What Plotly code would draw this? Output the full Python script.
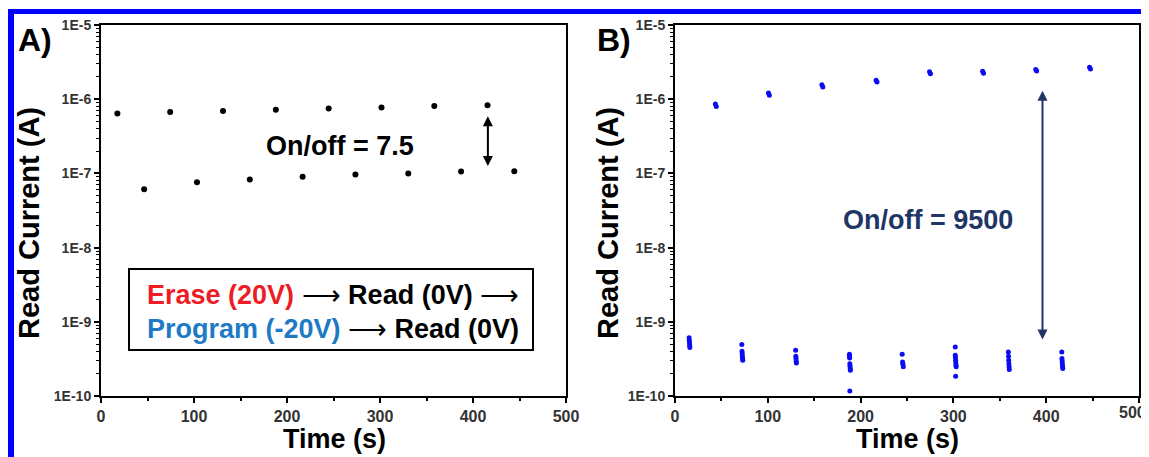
import numpy as np
import plotly.graph_objects as go

# Panel A: read current after erase / program pulses (black)
a_on_t = [17.6, 74.4, 131.2, 188.0, 244.8, 301.6, 358.4, 415.6]
a_on_i = [6.4e-7, 6.7e-7, 6.95e-7, 7.2e-7, 7.5e-7, 7.7e-7, 8.1e-7, 8.3e-7]
a_off_t = [46.4, 103.2, 160.0, 216.8, 273.6, 330.4, 387.2, 444.4]
a_off_i = [6.1e-8, 7.6e-8, 8.3e-8, 9.0e-8, 9.7e-8, 1.0e-7, 1.06e-7, 1.07e-7]

# Panel B: on state (upper) and off state (lower), blue
b_on_t = [43.5, 44.5, 100.7, 101.7, 158.3, 159.3, 216.7, 217.7, 274.3, 275.3, 331.5, 332.5, 388.7, 389.7, 446.7, 447.7]
b_on_i = [8.6e-7, 8.0e-7, 1.21e-6, 1.13e-6, 1.56e-6, 1.46e-6, 1.80e-6, 1.70e-6,
          2.34e-6, 2.20e-6, 2.38e-6, 2.24e-6, 2.52e-6, 2.40e-6, 2.70e-6, 2.56e-6]
b_off_t = [15.2, 15.4, 15.6, 15.8, 16.0,
           72.0, 72.2, 72.4, 72.6, 72.8, 73.0,
           130.0, 130.2, 130.4, 130.6, 130.8,
           188.0, 188.0, 188.2, 188.4, 188.6, 188.8, 189.0, 188.4,
           244.8, 245.2, 245.6, 246.0,
           302.0, 302.0, 302.2, 302.4, 302.6, 302.8, 303.0, 302.4,
           359.2, 359.4, 359.6, 359.8, 360.0, 360.2,
           416.8, 417.0, 417.2, 417.4, 417.6, 417.8]
b_off_i = [6.1e-10, 5.65e-10, 5.2e-10, 4.84e-10, 4.5e-10,
           4.94e-10, 4.0e-10, 3.73e-10, 3.44e-10, 3.2e-10, 3.03e-10,
           4.14e-10, 3.44e-10, 3.2e-10, 2.94e-10, 2.79e-10,
           3.66e-10, 3.44e-10, 3.26e-10, 2.73e-10, 2.51e-10, 2.34e-10, 2.22e-10, 1.17e-10,
           3.66e-10, 2.88e-10, 2.68e-10, 2.47e-10,
           4.59e-10, 3.55e-10, 3.3e-10, 3.03e-10, 2.79e-10, 2.6e-10, 2.47e-10, 1.84e-10,
           3.93e-10, 3.44e-10, 3.03e-10, 2.73e-10, 2.47e-10, 2.27e-10,
           3.93e-10, 3.2e-10, 2.97e-10, 2.73e-10, 2.51e-10, 2.34e-10]

y_ticks = [1e-10, 1e-9, 1e-8, 1e-7, 1e-6, 1e-5]
y_text = ["1E-10", "1E-9", "1E-8", "1E-7", "1E-6", "1E-5"]
x_ticks = [0, 100, 200, 300, 400, 500]

FONT = "Arial, Liberation Sans, sans-serif"
NAVY = "#1f3566"
BLUE_DOT = "#0c0cf0"
W, H, OFF = 1141, 449, 8   # page body adds an 8px margin


def px(x):
    return (x - OFF) / W


def py(y):
    return 1 - (y - OFF) / H


minor_y = [m * 10.0 ** e for e in range(-10, -5) for m in range(2, 10)]

fig = go.Figure()
fig.add_trace(go.Scatter(x=a_on_t, y=a_on_i, mode="markers", marker=dict(color="black", size=6),
                         xaxis="x", yaxis="y", showlegend=False))
fig.add_trace(go.Scatter(x=a_off_t, y=a_off_i, mode="markers", marker=dict(color="black", size=6),
                         xaxis="x", yaxis="y", showlegend=False))
fig.add_trace(go.Scatter(x=b_on_t, y=b_on_i, mode="markers", marker=dict(color=BLUE_DOT, size=5),
                         xaxis="x2", yaxis="y2", showlegend=False))
fig.add_trace(go.Scatter(x=b_off_t, y=b_off_i, mode="markers", marker=dict(color=BLUE_DOT, size=5),
                         xaxis="x2", yaxis="y2", showlegend=False))


def xax(domain, anchor):
    return dict(domain=domain, anchor=anchor, range=[0, 500], tickvals=x_ticks, automargin=False,
                showline=True, linecolor="black", linewidth=2, mirror=True,
                ticks="outside", ticklen=5, tickwidth=2, tickcolor="black",
                minor=dict(tickmode="array", tickvals=[50, 150, 250, 350, 450], ticks="outside",
                           ticklen=3, tickwidth=2, tickcolor="black"),
                showgrid=False, zeroline=False,
                tickfont=dict(family=FONT, size=16, color="#333", weight="bold"))


def yax(anchor):
    return dict(domain=[py(396), py(25)], anchor=anchor, type="log", range=[-10, -5], automargin=False,
                tickvals=y_ticks, ticktext=y_text,
                showline=True, linecolor="black", linewidth=2, mirror=True,
                ticks="outside", ticklen=5, tickwidth=2, tickcolor="black",
                minor=dict(tickmode="array", tickvals=minor_y, ticks="outside",
                           ticklen=3, tickwidth=1, tickcolor="black"),
                showgrid=False, zeroline=False,
                tickfont=dict(family=FONT, size=14, color="#333", weight="bold"))


fig.update_layout(
    width=W, height=H,
    margin=dict(l=0, r=0, t=0, b=0),
    paper_bgcolor="white", plot_bgcolor="white",
    xaxis=xax([px(101), px(566)], "y"),
    yaxis=yax("x"),
    xaxis2=xax([px(675), px(1139)], "y2"),
    yaxis2=yax("x2"),
)


def label(text, x, y, size, color="black", xanchor="center", **kw):
    return dict(text=text, x=px(x), y=py(y), xref="paper", yref="paper", showarrow=False,
                xanchor=xanchor, yanchor="middle",
                font=dict(family=FONT, size=size, color=color, weight="bold"), **kw)


ARROW = "<span style='font-weight:normal'>\u27f6</span>"
annotations = [
    label("A)", 35, 40, 32),
    label("B)", 614, 40, 32),
    label("Read Current (A)", 29, 223, 29, textangle=-90),
    label("Read Current (A)", 608, 223, 29, textangle=-90),
    label("Time (s)", 334, 439, 27),
    label("Time (s)", 907, 439, 27),
    label("On/off = 7.5", 340, 146, 27),
    label("On/off = 9500", 928, 220, 27, color=NAVY),
    label(f"<span style='color:#ee1c25'>Erase (20V)</span> {ARROW} Read (0V) {ARROW}", 145, 295, 27,
          xanchor="left"),
    label(f"<span style='color:#1f7ac4'>Program (-20V)</span> {ARROW} Read (0V)", 145, 329, 27,
          xanchor="left"),
    # last x tick label of panel B sits at the page edge
    dict(text=str(x_ticks[-1]), x=px(1148), y=py(412), xref="paper", yref="paper", showarrow=False,
         xanchor="right", yanchor="middle", font=dict(family=FONT, size=16, color="#333", weight="bold")),
    # double arrows
    dict(x=416, y=np.log10(5.9e-7), ax=416, ay=np.log10(1.2e-7), xref="x", yref="y",
         axref="x", ayref="y", showarrow=True, arrowhead=2, startarrowhead=2, arrowside="end+start",
         arrowwidth=2, arrowcolor="black", arrowsize=1, text=""),
    dict(x=396, y=np.log10(1.3e-6), ax=396, ay=np.log10(5.5e-10), xref="x2", yref="y2",
         axref="x2", ayref="y2", showarrow=True, arrowhead=2, startarrowhead=2, arrowside="end+start",
         arrowwidth=2, arrowcolor=NAVY, arrowsize=1, text=""),
]
fig.update_layout(annotations=annotations)

shapes = [
    # box around the pulse sequence text
    dict(type="rect", xref="paper", yref="paper", x0=px(129), x1=px(533), y0=py(350), y1=py(269),
         line=dict(color="black", width=2), fillcolor="rgba(0,0,0,0)"),
    # blue frame (top and left edges)
    dict(type="rect", xref="paper", yref="paper", x0=0, x1=1, y0=py(14), y1=py(9),
         line=dict(width=0), fillcolor="#0000ff"),
    dict(type="rect", xref="paper", yref="paper", x0=px(8), x1=px(14), y0=0, y1=py(9),
         line=dict(width=0), fillcolor="#0000ff"),
]
fig.update_layout(shapes=shapes)

fig.write_html("out.html")
